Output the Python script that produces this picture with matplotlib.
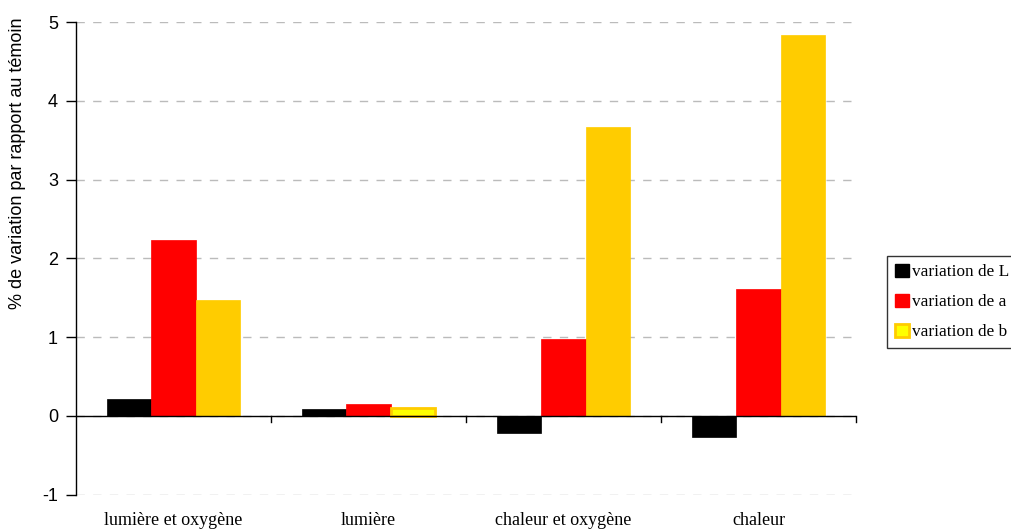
import matplotlib
matplotlib.use("Agg")
import matplotlib.pyplot as plt
import numpy as np
from matplotlib.patches import Patch

categories = ["lumière et oxygène", "lumière", "chaleur et oxygène", "chaleur"]
series_names = ["variation de L", "variation de a", "variation de b"]
var_L = [0.22, 0.09, -0.21, -0.27]
var_a = [2.23, 0.15, 0.98, 1.61]
var_b = [1.47, 0.10, 3.67, 4.84]
yticks = [-1, 0, 1, 2, 3, 4, 5]

W, H = 1011, 530
fig = plt.figure(figsize=(W / 100, H / 100), dpi=100)
ax = fig.add_axes([76 / W, 1 - 494.8 / H, (856 - 76) / W, (494.8 - 22) / H])

x = np.arange(len(categories))
bw = 0.226
gold = "#FFCC00"
ax.bar(x - bw, var_L, bw, color="black", edgecolor="black", linewidth=0.5, zorder=3)
ax.bar(x, var_a, bw, color="#FF0000", edgecolor="#FF0000", linewidth=0.5, zorder=3)
fills = [gold, "#FFFF00", gold, gold]
ax.bar(x + bw, var_b, bw, color=fills, edgecolor=gold, linewidth=[0.5, 2.0, 0.5, 0.5], zorder=3)

ax.set_xlim(-0.5, len(categories) - 0.5)
ax.set_ylim(-1, 5)
ax.set_yticks(yticks)
ax.set_yticklabels([str(t) for t in yticks], family="Liberation Sans", fontsize=13)
ax.yaxis.grid(True, color="#BBBBBB", linestyle=(0, (6, 6)), linewidth=1)
ax.set_axisbelow(True)
for s in ["top", "right", "bottom"]:
    ax.spines[s].set_visible(False)
ax.spines["left"].set_linewidth(1)
ax.tick_params(axis="y", length=7, width=1, pad=6)
ax.tick_params(axis="x", length=0)
ax.set_xticks([])

# zero axis line with category boundary ticks
ax.axhline(0, color="black", linewidth=1, zorder=4)
for b in np.arange(0.5, len(categories), 1.0):
    ax.plot([b, b], [0, -0.08], color="black", linewidth=1, zorder=4, clip_on=False)

for xi, c in zip(x, categories):
    ax.text(xi, -1.22, c, ha="center", va="top", family="Liberation Serif", fontsize=13)

fig.text(18 / W, 1 - 163 / H, "% de variation par rapport au témoin",
         rotation=90, ha="center", va="center", family="Liberation Sans", fontsize=13)

handles = [
    Patch(facecolor="black", edgecolor="black"),
    Patch(facecolor="#FF0000", edgecolor="#FF0000"),
    Patch(facecolor="#FFFF00", edgecolor=gold, linewidth=2),
]
leg = fig.legend(handles, series_names, loc="upper left",
                 bbox_to_anchor=(887 / W, 1 - 256 / H),
                 prop={"family": "Liberation Serif", "size": 12.4},
                 frameon=True, fancybox=False, edgecolor="black",
                 handlelength=0.8, handleheight=0.8, handletextpad=0.2,
                 borderpad=0.45, labelspacing=0.78, borderaxespad=0)
leg.get_frame().set_linewidth(1)

fig.savefig("out.png", dpi=100)
